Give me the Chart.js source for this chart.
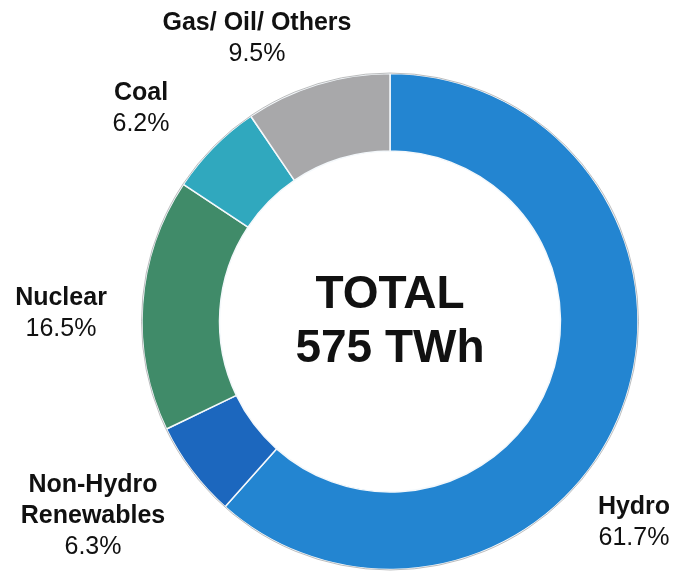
<!DOCTYPE html>
<html>
<head>
<meta charset="utf-8">
<script src="https://cdn.jsdelivr.net/npm/chart.js@4.4.1/dist/chart.umd.min.js"></script>
<style>
  html, body { margin: 0; padding: 0; background: #ffffff; }
  #wrap { position: relative; width: 675px; height: 571px; }
</style>
</head>
<body>
<div id="wrap"><canvas id="c" width="675" height="571"></canvas></div>
<script>
// ---- data ----
const categories = ["Hydro", "Non-Hydro Renewables", "Nuclear", "Coal", "Gas/ Oil/ Others"];
const shares = [61.7, 6.3, 16.5, 6.2, 9.5];
const colors = ["#2385d1", "#1c67be", "#408b69", "#30a8be", "#a8a8aa"];
const centerLines = ["TOTAL", "575 TWh"];

// label layout (name lines, value line) per category
const labelLines = [
  ["Hydro"],
  ["Non-Hydro", "Renewables"],
  ["Nuclear"],
  ["Coal"],
  ["Gas/ Oil/ Others"]
];
const labelAnchors = [
  { x: 634, y: 507 },
  { x: 93, y: 485 },
  { x: 61, y: 298 },
  { x: 141, y: 93 },
  { x: 257, y: 23 }
];

const textPlugin = {
  id: 'textPlugin',
  afterDraw(chart) {
    const ctx = chart.ctx;
    const meta = chart.getDatasetMeta(0);
    const arc0 = meta.data[0];
    ctx.save();
    ctx.textAlign = 'center';
    ctx.textBaseline = 'middle';
    ctx.fillStyle = '#111111';
    // outer faint outline
    ctx.beginPath();
    ctx.arc(arc0.x, arc0.y, arc0.outerRadius + 0.5, 0, Math.PI * 2);
    ctx.strokeStyle = 'rgba(150,150,150,0.6)';
    ctx.lineWidth = 1;
    ctx.stroke();
    // center text
    ctx.font = 'bold 46px "Liberation Sans", Arial, sans-serif';
    ctx.fillText(centerLines[0], arc0.x, arc0.y - 26);
    ctx.fillText(centerLines[1], arc0.x, arc0.y + 28);
    // labels
    categories.forEach((c, i) => {
      const a = labelAnchors[i];
      let y = a.y;
      ctx.font = 'bold 25px "Liberation Sans", Arial, sans-serif';
      labelLines[i].forEach(line => {
        ctx.fillText(line, a.x, y);
        y += 31;
      });
      ctx.font = '25px "Liberation Sans", Arial, sans-serif';
      ctx.fillText(shares[i].toFixed(1) + '%', a.x, y);
    });
    ctx.restore();
  }
};

new Chart(document.getElementById('c'), {
  type: 'doughnut',
  data: {
    labels: categories,
    datasets: [{
      data: shares,
      backgroundColor: colors,
      borderColor: '#f4f8fb',
      borderWidth: 1.5,
      hoverOffset: 0
    }]
  },
  options: {
    responsive: false,
    animation: false,
    radius: 248,
    cutout: 171,
    rotation: 0,
    layout: { padding: { left: 140, right: 35, top: 72, bottom: 0 } },
    plugins: {
      legend: { display: false },
      tooltip: { enabled: false },
      title: { display: false }
    }
  },
  plugins: [textPlugin]
});
</script>
</body>
</html>
